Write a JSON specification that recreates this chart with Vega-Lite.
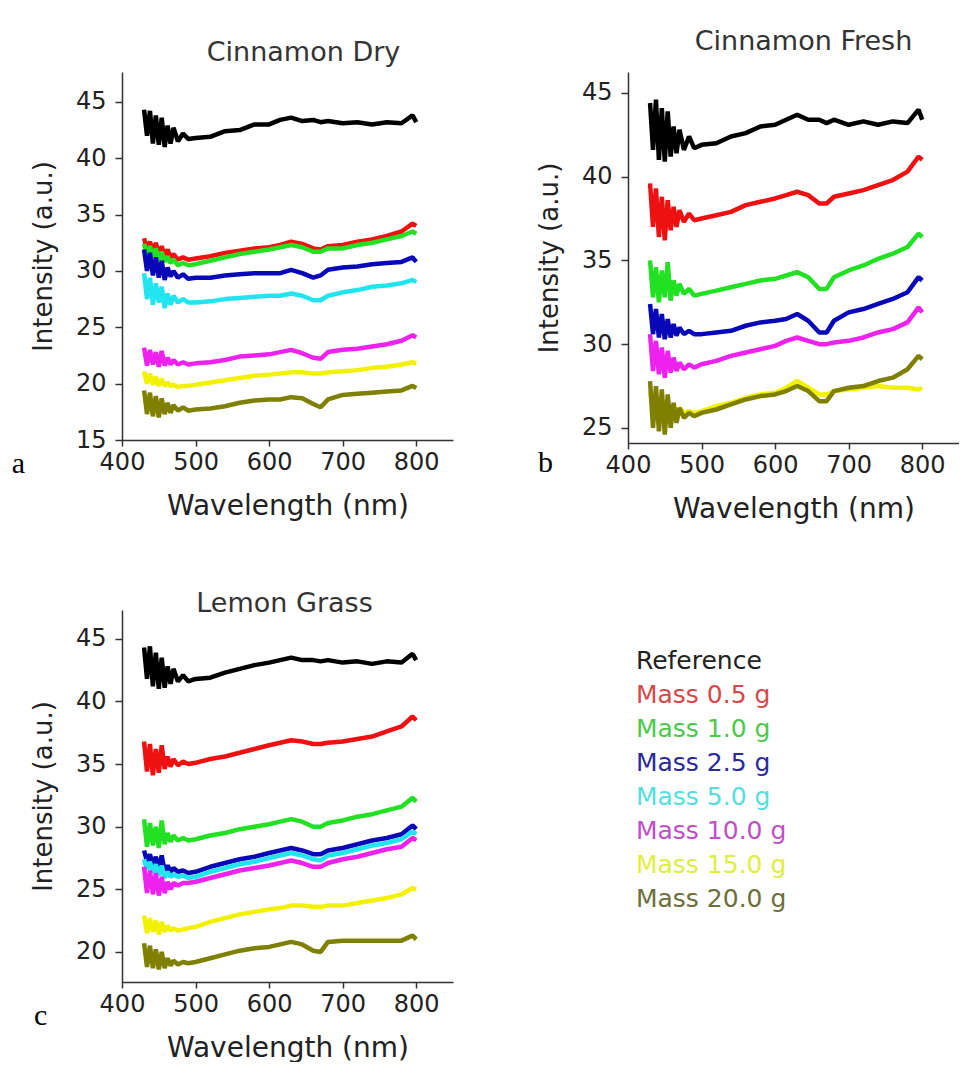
{
"$schema":"https://vega.github.io/schema/vega-lite/v6.json",
"autosize":{"type":"pad"},
"padding":{"left":11,"top":28,"right":0,"bottom":0},
"background":"white",
"config":{
 "view":{"stroke":null},
 "axis":{"grid":false,"domainColor":"#333","domainWidth":1.5,"tickColor":"#333","tickWidth":1.5,"labelFont":"DejaVu Sans","labelFontSize":24,"labelColor":"#222","titleFont":"DejaVu Sans","titleFontSize":26,"titleColor":"#222","titleFontWeight":"normal"},
 "axisX":{"tickSize":6,"labelPadding":4,"titlePadding":18,"labelFlush":false,"titleFontSize":28},
 "axisY":{"tickSize":7,"labelPadding":9,"titlePadding":19},
 "title":{"font":"DejaVu Sans","fontSize":27,"color":"#333","fontWeight":"normal","anchor":"middle","baseline":"alphabetic"},
 "line":{"strokeWidth":4.5,"strokeJoin":"bevel"}
},
"datasets":{
"dry":[
{"m":"ref","x":430,"y":44.3},{"m":"ref","x":434,"y":42.0},{"m":"ref","x":438,"y":44.2},{"m":"ref","x":442,"y":41.3},{"m":"ref","x":446,"y":43.8},{"m":"ref","x":450,"y":41.2},{"m":"ref","x":454,"y":43.6},{"m":"ref","x":458,"y":41.0},{"m":"ref","x":462,"y":42.9},{"m":"ref","x":466,"y":41.3},{"m":"ref","x":470,"y":42.7},{"m":"ref","x":476,"y":41.5},{"m":"ref","x":483,"y":42.2},{"m":"ref","x":490,"y":41.7},{"m":"ref","x":500,"y":41.8},{"m":"ref","x":520,"y":41.9},{"m":"ref","x":540,"y":42.4},{"m":"ref","x":560,"y":42.5},{"m":"ref","x":580,"y":43.0},{"m":"ref","x":600,"y":43.0},{"m":"ref","x":615,"y":43.4},{"m":"ref","x":630,"y":43.6},{"m":"ref","x":645,"y":43.3},{"m":"ref","x":660,"y":43.4},{"m":"ref","x":670,"y":43.2},{"m":"ref","x":680,"y":43.3},{"m":"ref","x":700,"y":43.1},{"m":"ref","x":720,"y":43.2},{"m":"ref","x":740,"y":43.0},{"m":"ref","x":760,"y":43.2},{"m":"ref","x":780,"y":43.1},{"m":"ref","x":795,"y":43.8},{"m":"ref","x":800,"y":43.2},
{"m":"0.5","x":430,"y":32.9},{"m":"0.5","x":434,"y":31.9},{"m":"0.5","x":438,"y":32.6},{"m":"0.5","x":442,"y":31.6},{"m":"0.5","x":446,"y":32.5},{"m":"0.5","x":450,"y":31.4},{"m":"0.5","x":454,"y":32.2},{"m":"0.5","x":458,"y":31.3},{"m":"0.5","x":462,"y":31.9},{"m":"0.5","x":466,"y":31.2},{"m":"0.5","x":470,"y":31.5},{"m":"0.5","x":476,"y":31.0},{"m":"0.5","x":483,"y":31.2},{"m":"0.5","x":490,"y":31.0},{"m":"0.5","x":500,"y":31.1},{"m":"0.5","x":520,"y":31.3},{"m":"0.5","x":540,"y":31.6},{"m":"0.5","x":560,"y":31.8},{"m":"0.5","x":580,"y":32.0},{"m":"0.5","x":600,"y":32.1},{"m":"0.5","x":615,"y":32.3},{"m":"0.5","x":630,"y":32.6},{"m":"0.5","x":645,"y":32.4},{"m":"0.5","x":660,"y":32.0},{"m":"0.5","x":670,"y":31.9},{"m":"0.5","x":680,"y":32.2},{"m":"0.5","x":700,"y":32.3},{"m":"0.5","x":720,"y":32.6},{"m":"0.5","x":740,"y":32.8},{"m":"0.5","x":760,"y":33.1},{"m":"0.5","x":780,"y":33.5},{"m":"0.5","x":795,"y":34.2},{"m":"0.5","x":800,"y":34.0},
{"m":"1.0","x":430,"y":32.4},{"m":"1.0","x":434,"y":31.4},{"m":"1.0","x":438,"y":32.2},{"m":"1.0","x":442,"y":31.2},{"m":"1.0","x":446,"y":32.0},{"m":"1.0","x":450,"y":30.9},{"m":"1.0","x":454,"y":31.7},{"m":"1.0","x":458,"y":30.8},{"m":"1.0","x":462,"y":31.3},{"m":"1.0","x":466,"y":30.7},{"m":"1.0","x":470,"y":31.0},{"m":"1.0","x":476,"y":30.5},{"m":"1.0","x":483,"y":30.7},{"m":"1.0","x":490,"y":30.5},{"m":"1.0","x":500,"y":30.6},{"m":"1.0","x":520,"y":30.9},{"m":"1.0","x":540,"y":31.2},{"m":"1.0","x":560,"y":31.5},{"m":"1.0","x":580,"y":31.7},{"m":"1.0","x":600,"y":31.9},{"m":"1.0","x":615,"y":32.1},{"m":"1.0","x":630,"y":32.3},{"m":"1.0","x":645,"y":32.1},{"m":"1.0","x":660,"y":31.7},{"m":"1.0","x":670,"y":31.7},{"m":"1.0","x":680,"y":32.0},{"m":"1.0","x":700,"y":32.0},{"m":"1.0","x":720,"y":32.3},{"m":"1.0","x":740,"y":32.5},{"m":"1.0","x":760,"y":32.8},{"m":"1.0","x":780,"y":33.1},{"m":"1.0","x":795,"y":33.5},{"m":"1.0","x":800,"y":33.3},
{"m":"2.5","x":430,"y":31.9},{"m":"2.5","x":434,"y":30.0},{"m":"2.5","x":438,"y":31.6},{"m":"2.5","x":442,"y":29.6},{"m":"2.5","x":446,"y":31.2},{"m":"2.5","x":450,"y":29.4},{"m":"2.5","x":454,"y":30.9},{"m":"2.5","x":458,"y":29.2},{"m":"2.5","x":462,"y":30.3},{"m":"2.5","x":466,"y":29.5},{"m":"2.5","x":470,"y":30.0},{"m":"2.5","x":476,"y":29.4},{"m":"2.5","x":483,"y":29.7},{"m":"2.5","x":490,"y":29.3},{"m":"2.5","x":500,"y":29.4},{"m":"2.5","x":520,"y":29.4},{"m":"2.5","x":540,"y":29.6},{"m":"2.5","x":560,"y":29.7},{"m":"2.5","x":580,"y":29.8},{"m":"2.5","x":600,"y":29.8},{"m":"2.5","x":615,"y":29.8},{"m":"2.5","x":630,"y":30.1},{"m":"2.5","x":645,"y":29.8},{"m":"2.5","x":660,"y":29.4},{"m":"2.5","x":670,"y":29.6},{"m":"2.5","x":680,"y":30.1},{"m":"2.5","x":700,"y":30.3},{"m":"2.5","x":720,"y":30.4},{"m":"2.5","x":740,"y":30.6},{"m":"2.5","x":760,"y":30.7},{"m":"2.5","x":780,"y":30.8},{"m":"2.5","x":795,"y":31.2},{"m":"2.5","x":800,"y":30.8},
{"m":"5.0","x":430,"y":29.8},{"m":"5.0","x":434,"y":27.5},{"m":"5.0","x":438,"y":29.4},{"m":"5.0","x":442,"y":27.0},{"m":"5.0","x":446,"y":28.9},{"m":"5.0","x":450,"y":27.2},{"m":"5.0","x":454,"y":28.6},{"m":"5.0","x":458,"y":26.7},{"m":"5.0","x":462,"y":28.0},{"m":"5.0","x":466,"y":27.0},{"m":"5.0","x":470,"y":27.8},{"m":"5.0","x":476,"y":27.2},{"m":"5.0","x":483,"y":27.5},{"m":"5.0","x":490,"y":27.2},{"m":"5.0","x":500,"y":27.2},{"m":"5.0","x":520,"y":27.3},{"m":"5.0","x":540,"y":27.5},{"m":"5.0","x":560,"y":27.6},{"m":"5.0","x":580,"y":27.7},{"m":"5.0","x":600,"y":27.8},{"m":"5.0","x":615,"y":27.8},{"m":"5.0","x":630,"y":28.0},{"m":"5.0","x":645,"y":27.8},{"m":"5.0","x":660,"y":27.4},{"m":"5.0","x":670,"y":27.4},{"m":"5.0","x":680,"y":27.8},{"m":"5.0","x":700,"y":28.1},{"m":"5.0","x":720,"y":28.3},{"m":"5.0","x":740,"y":28.6},{"m":"5.0","x":760,"y":28.7},{"m":"5.0","x":780,"y":28.9},{"m":"5.0","x":795,"y":29.2},{"m":"5.0","x":800,"y":29.0},
{"m":"10.0","x":430,"y":23.2},{"m":"10.0","x":434,"y":21.6},{"m":"10.0","x":438,"y":23.0},{"m":"10.0","x":442,"y":21.7},{"m":"10.0","x":446,"y":22.8},{"m":"10.0","x":450,"y":21.5},{"m":"10.0","x":454,"y":22.9},{"m":"10.0","x":458,"y":21.6},{"m":"10.0","x":462,"y":22.3},{"m":"10.0","x":466,"y":21.7},{"m":"10.0","x":470,"y":22.1},{"m":"10.0","x":476,"y":21.7},{"m":"10.0","x":483,"y":21.9},{"m":"10.0","x":490,"y":21.7},{"m":"10.0","x":500,"y":21.8},{"m":"10.0","x":520,"y":21.9},{"m":"10.0","x":540,"y":22.1},{"m":"10.0","x":560,"y":22.4},{"m":"10.0","x":580,"y":22.5},{"m":"10.0","x":600,"y":22.6},{"m":"10.0","x":615,"y":22.8},{"m":"10.0","x":630,"y":23.0},{"m":"10.0","x":645,"y":22.7},{"m":"10.0","x":660,"y":22.3},{"m":"10.0","x":670,"y":22.2},{"m":"10.0","x":680,"y":22.8},{"m":"10.0","x":700,"y":23.0},{"m":"10.0","x":720,"y":23.1},{"m":"10.0","x":740,"y":23.3},{"m":"10.0","x":760,"y":23.5},{"m":"10.0","x":780,"y":23.8},{"m":"10.0","x":795,"y":24.3},{"m":"10.0","x":800,"y":24.1},
{"m":"15.0","x":430,"y":21.1},{"m":"15.0","x":434,"y":20.0},{"m":"15.0","x":438,"y":20.9},{"m":"15.0","x":442,"y":19.9},{"m":"15.0","x":446,"y":20.6},{"m":"15.0","x":450,"y":19.8},{"m":"15.0","x":454,"y":20.4},{"m":"15.0","x":458,"y":19.8},{"m":"15.0","x":462,"y":20.1},{"m":"15.0","x":466,"y":19.8},{"m":"15.0","x":470,"y":19.9},{"m":"15.0","x":476,"y":19.7},{"m":"15.0","x":483,"y":19.8},{"m":"15.0","x":490,"y":19.8},{"m":"15.0","x":500,"y":19.9},{"m":"15.0","x":520,"y":20.1},{"m":"15.0","x":540,"y":20.3},{"m":"15.0","x":560,"y":20.5},{"m":"15.0","x":580,"y":20.7},{"m":"15.0","x":600,"y":20.8},{"m":"15.0","x":615,"y":20.9},{"m":"15.0","x":630,"y":21.0},{"m":"15.0","x":645,"y":21.0},{"m":"15.0","x":660,"y":20.9},{"m":"15.0","x":670,"y":20.9},{"m":"15.0","x":680,"y":21.0},{"m":"15.0","x":700,"y":21.1},{"m":"15.0","x":720,"y":21.2},{"m":"15.0","x":740,"y":21.4},{"m":"15.0","x":760,"y":21.5},{"m":"15.0","x":780,"y":21.7},{"m":"15.0","x":795,"y":21.9},{"m":"15.0","x":800,"y":21.8},
{"m":"20.0","x":430,"y":19.4},{"m":"20.0","x":434,"y":17.3},{"m":"20.0","x":438,"y":19.2},{"m":"20.0","x":442,"y":17.1},{"m":"20.0","x":446,"y":18.9},{"m":"20.0","x":450,"y":17.0},{"m":"20.0","x":454,"y":18.7},{"m":"20.0","x":458,"y":17.3},{"m":"20.0","x":462,"y":18.3},{"m":"20.0","x":466,"y":17.4},{"m":"20.0","x":470,"y":18.1},{"m":"20.0","x":476,"y":17.6},{"m":"20.0","x":483,"y":17.9},{"m":"20.0","x":490,"y":17.6},{"m":"20.0","x":500,"y":17.7},{"m":"20.0","x":520,"y":17.8},{"m":"20.0","x":540,"y":18.0},{"m":"20.0","x":560,"y":18.3},{"m":"20.0","x":580,"y":18.5},{"m":"20.0","x":600,"y":18.6},{"m":"20.0","x":615,"y":18.6},{"m":"20.0","x":630,"y":18.8},{"m":"20.0","x":645,"y":18.7},{"m":"20.0","x":660,"y":18.2},{"m":"20.0","x":670,"y":17.9},{"m":"20.0","x":680,"y":18.6},{"m":"20.0","x":700,"y":19.0},{"m":"20.0","x":720,"y":19.1},{"m":"20.0","x":740,"y":19.2},{"m":"20.0","x":760,"y":19.3},{"m":"20.0","x":780,"y":19.4},{"m":"20.0","x":795,"y":19.8},{"m":"20.0","x":800,"y":19.6}
],
"fresh":[
{"m":"ref","x":430,"y":44.4},{"m":"ref","x":434,"y":41.6},{"m":"ref","x":438,"y":44.6},{"m":"ref","x":442,"y":41.0},{"m":"ref","x":446,"y":44.1},{"m":"ref","x":450,"y":40.9},{"m":"ref","x":454,"y":43.9},{"m":"ref","x":458,"y":41.2},{"m":"ref","x":462,"y":43.0},{"m":"ref","x":466,"y":41.4},{"m":"ref","x":470,"y":42.8},{"m":"ref","x":476,"y":41.6},{"m":"ref","x":483,"y":42.4},{"m":"ref","x":490,"y":41.7},{"m":"ref","x":500,"y":41.9},{"m":"ref","x":520,"y":42.0},{"m":"ref","x":540,"y":42.4},{"m":"ref","x":560,"y":42.6},{"m":"ref","x":580,"y":43.0},{"m":"ref","x":600,"y":43.1},{"m":"ref","x":615,"y":43.4},{"m":"ref","x":630,"y":43.7},{"m":"ref","x":645,"y":43.4},{"m":"ref","x":660,"y":43.4},{"m":"ref","x":670,"y":43.2},{"m":"ref","x":680,"y":43.4},{"m":"ref","x":700,"y":43.1},{"m":"ref","x":720,"y":43.3},{"m":"ref","x":740,"y":43.1},{"m":"ref","x":760,"y":43.3},{"m":"ref","x":780,"y":43.2},{"m":"ref","x":795,"y":44.0},{"m":"ref","x":800,"y":43.4},
{"m":"0.5","x":430,"y":39.6},{"m":"0.5","x":434,"y":37.0},{"m":"0.5","x":438,"y":39.3},{"m":"0.5","x":442,"y":36.4},{"m":"0.5","x":446,"y":38.8},{"m":"0.5","x":450,"y":36.2},{"m":"0.5","x":454,"y":38.6},{"m":"0.5","x":458,"y":36.8},{"m":"0.5","x":462,"y":38.2},{"m":"0.5","x":466,"y":37.0},{"m":"0.5","x":470,"y":38.0},{"m":"0.5","x":476,"y":37.3},{"m":"0.5","x":483,"y":37.8},{"m":"0.5","x":490,"y":37.4},{"m":"0.5","x":500,"y":37.5},{"m":"0.5","x":520,"y":37.7},{"m":"0.5","x":540,"y":37.9},{"m":"0.5","x":560,"y":38.3},{"m":"0.5","x":580,"y":38.5},{"m":"0.5","x":600,"y":38.7},{"m":"0.5","x":615,"y":38.9},{"m":"0.5","x":630,"y":39.1},{"m":"0.5","x":645,"y":38.9},{"m":"0.5","x":660,"y":38.4},{"m":"0.5","x":670,"y":38.4},{"m":"0.5","x":680,"y":38.8},{"m":"0.5","x":700,"y":39.0},{"m":"0.5","x":720,"y":39.2},{"m":"0.5","x":740,"y":39.5},{"m":"0.5","x":760,"y":39.8},{"m":"0.5","x":780,"y":40.3},{"m":"0.5","x":795,"y":41.2},{"m":"0.5","x":800,"y":41.0},
{"m":"1.0","x":430,"y":35.0},{"m":"1.0","x":434,"y":32.8},{"m":"1.0","x":438,"y":34.6},{"m":"1.0","x":442,"y":32.5},{"m":"1.0","x":446,"y":34.4},{"m":"1.0","x":450,"y":32.8},{"m":"1.0","x":454,"y":34.9},{"m":"1.0","x":458,"y":32.6},{"m":"1.0","x":462,"y":33.8},{"m":"1.0","x":466,"y":32.9},{"m":"1.0","x":470,"y":33.6},{"m":"1.0","x":476,"y":33.0},{"m":"1.0","x":483,"y":33.3},{"m":"1.0","x":490,"y":32.9},{"m":"1.0","x":500,"y":33.0},{"m":"1.0","x":520,"y":33.2},{"m":"1.0","x":540,"y":33.4},{"m":"1.0","x":560,"y":33.6},{"m":"1.0","x":580,"y":33.8},{"m":"1.0","x":600,"y":33.9},{"m":"1.0","x":615,"y":34.1},{"m":"1.0","x":630,"y":34.3},{"m":"1.0","x":645,"y":34.0},{"m":"1.0","x":660,"y":33.3},{"m":"1.0","x":670,"y":33.3},{"m":"1.0","x":680,"y":34.0},{"m":"1.0","x":700,"y":34.4},{"m":"1.0","x":720,"y":34.7},{"m":"1.0","x":740,"y":35.1},{"m":"1.0","x":760,"y":35.4},{"m":"1.0","x":780,"y":35.8},{"m":"1.0","x":795,"y":36.6},{"m":"1.0","x":800,"y":36.4},
{"m":"2.5","x":430,"y":32.4},{"m":"2.5","x":434,"y":30.6},{"m":"2.5","x":438,"y":32.1},{"m":"2.5","x":442,"y":30.4},{"m":"2.5","x":446,"y":31.8},{"m":"2.5","x":450,"y":30.3},{"m":"2.5","x":454,"y":31.5},{"m":"2.5","x":458,"y":30.4},{"m":"2.5","x":462,"y":31.2},{"m":"2.5","x":466,"y":30.5},{"m":"2.5","x":470,"y":31.0},{"m":"2.5","x":476,"y":30.6},{"m":"2.5","x":483,"y":30.8},{"m":"2.5","x":490,"y":30.6},{"m":"2.5","x":500,"y":30.6},{"m":"2.5","x":520,"y":30.7},{"m":"2.5","x":540,"y":30.8},{"m":"2.5","x":560,"y":31.1},{"m":"2.5","x":580,"y":31.3},{"m":"2.5","x":600,"y":31.4},{"m":"2.5","x":615,"y":31.5},{"m":"2.5","x":630,"y":31.8},{"m":"2.5","x":645,"y":31.4},{"m":"2.5","x":660,"y":30.7},{"m":"2.5","x":670,"y":30.7},{"m":"2.5","x":680,"y":31.4},{"m":"2.5","x":700,"y":31.9},{"m":"2.5","x":720,"y":32.1},{"m":"2.5","x":740,"y":32.4},{"m":"2.5","x":760,"y":32.7},{"m":"2.5","x":780,"y":33.1},{"m":"2.5","x":795,"y":34.0},{"m":"2.5","x":800,"y":33.8},
{"m":"10.0","x":430,"y":30.6},{"m":"10.0","x":434,"y":28.4},{"m":"10.0","x":438,"y":30.2},{"m":"10.0","x":442,"y":28.2},{"m":"10.0","x":446,"y":29.8},{"m":"10.0","x":450,"y":28.0},{"m":"10.0","x":454,"y":29.6},{"m":"10.0","x":458,"y":28.3},{"m":"10.0","x":462,"y":29.2},{"m":"10.0","x":466,"y":28.4},{"m":"10.0","x":470,"y":28.9},{"m":"10.0","x":476,"y":28.5},{"m":"10.0","x":483,"y":28.8},{"m":"10.0","x":490,"y":28.6},{"m":"10.0","x":500,"y":28.8},{"m":"10.0","x":520,"y":29.0},{"m":"10.0","x":540,"y":29.3},{"m":"10.0","x":560,"y":29.5},{"m":"10.0","x":580,"y":29.7},{"m":"10.0","x":600,"y":29.9},{"m":"10.0","x":615,"y":30.2},{"m":"10.0","x":630,"y":30.4},{"m":"10.0","x":645,"y":30.2},{"m":"10.0","x":660,"y":30.0},{"m":"10.0","x":670,"y":30.0},{"m":"10.0","x":680,"y":30.1},{"m":"10.0","x":700,"y":30.2},{"m":"10.0","x":720,"y":30.4},{"m":"10.0","x":740,"y":30.7},{"m":"10.0","x":760,"y":30.9},{"m":"10.0","x":780,"y":31.3},{"m":"10.0","x":795,"y":32.2},{"m":"10.0","x":800,"y":31.9},
{"m":"15.0","x":430,"y":27.2},{"m":"15.0","x":434,"y":26.0},{"m":"15.0","x":438,"y":27.0},{"m":"15.0","x":442,"y":25.8},{"m":"15.0","x":446,"y":26.8},{"m":"15.0","x":450,"y":25.7},{"m":"15.0","x":454,"y":26.6},{"m":"15.0","x":458,"y":25.8},{"m":"15.0","x":462,"y":26.3},{"m":"15.0","x":466,"y":25.9},{"m":"15.0","x":470,"y":26.2},{"m":"15.0","x":476,"y":25.9},{"m":"15.0","x":483,"y":26.0},{"m":"15.0","x":490,"y":25.9},{"m":"15.0","x":500,"y":26.0},{"m":"15.0","x":520,"y":26.3},{"m":"15.0","x":540,"y":26.5},{"m":"15.0","x":560,"y":26.8},{"m":"15.0","x":580,"y":27.0},{"m":"15.0","x":600,"y":27.1},{"m":"15.0","x":615,"y":27.4},{"m":"15.0","x":630,"y":27.8},{"m":"15.0","x":645,"y":27.4},{"m":"15.0","x":660,"y":27.0},{"m":"15.0","x":670,"y":27.0},{"m":"15.0","x":680,"y":27.2},{"m":"15.0","x":700,"y":27.3},{"m":"15.0","x":720,"y":27.4},{"m":"15.0","x":740,"y":27.5},{"m":"15.0","x":760,"y":27.4},{"m":"15.0","x":780,"y":27.4},{"m":"15.0","x":795,"y":27.3},{"m":"15.0","x":800,"y":27.4},
{"m":"20.0","x":430,"y":27.8},{"m":"20.0","x":434,"y":25.0},{"m":"20.0","x":438,"y":27.5},{"m":"20.0","x":442,"y":24.8},{"m":"20.0","x":446,"y":27.3},{"m":"20.0","x":450,"y":24.6},{"m":"20.0","x":454,"y":27.0},{"m":"20.0","x":458,"y":25.0},{"m":"20.0","x":462,"y":26.5},{"m":"20.0","x":466,"y":25.3},{"m":"20.0","x":470,"y":26.2},{"m":"20.0","x":476,"y":25.6},{"m":"20.0","x":483,"y":25.9},{"m":"20.0","x":490,"y":25.7},{"m":"20.0","x":500,"y":25.9},{"m":"20.0","x":520,"y":26.1},{"m":"20.0","x":540,"y":26.4},{"m":"20.0","x":560,"y":26.7},{"m":"20.0","x":580,"y":26.9},{"m":"20.0","x":600,"y":27.0},{"m":"20.0","x":615,"y":27.2},{"m":"20.0","x":630,"y":27.5},{"m":"20.0","x":645,"y":27.2},{"m":"20.0","x":660,"y":26.6},{"m":"20.0","x":670,"y":26.6},{"m":"20.0","x":680,"y":27.2},{"m":"20.0","x":700,"y":27.4},{"m":"20.0","x":720,"y":27.5},{"m":"20.0","x":740,"y":27.8},{"m":"20.0","x":760,"y":28.0},{"m":"20.0","x":780,"y":28.5},{"m":"20.0","x":795,"y":29.3},{"m":"20.0","x":800,"y":29.1}
],
"lemon":[
{"m":"ref","x":430,"y":44.3},{"m":"ref","x":434,"y":41.8},{"m":"ref","x":438,"y":44.4},{"m":"ref","x":442,"y":41.2},{"m":"ref","x":446,"y":43.9},{"m":"ref","x":450,"y":41.0},{"m":"ref","x":454,"y":43.5},{"m":"ref","x":458,"y":41.1},{"m":"ref","x":462,"y":42.8},{"m":"ref","x":466,"y":41.4},{"m":"ref","x":470,"y":42.6},{"m":"ref","x":476,"y":41.6},{"m":"ref","x":483,"y":42.1},{"m":"ref","x":490,"y":41.6},{"m":"ref","x":500,"y":41.8},{"m":"ref","x":520,"y":41.9},{"m":"ref","x":540,"y":42.3},{"m":"ref","x":560,"y":42.6},{"m":"ref","x":580,"y":42.9},{"m":"ref","x":600,"y":43.1},{"m":"ref","x":615,"y":43.3},{"m":"ref","x":630,"y":43.5},{"m":"ref","x":645,"y":43.3},{"m":"ref","x":660,"y":43.3},{"m":"ref","x":670,"y":43.2},{"m":"ref","x":680,"y":43.3},{"m":"ref","x":700,"y":43.1},{"m":"ref","x":720,"y":43.2},{"m":"ref","x":740,"y":43.0},{"m":"ref","x":760,"y":43.2},{"m":"ref","x":780,"y":43.1},{"m":"ref","x":795,"y":43.8},{"m":"ref","x":800,"y":43.3},
{"m":"0.5","x":430,"y":36.8},{"m":"0.5","x":434,"y":34.4},{"m":"0.5","x":438,"y":36.6},{"m":"0.5","x":442,"y":34.1},{"m":"0.5","x":446,"y":36.2},{"m":"0.5","x":450,"y":34.3},{"m":"0.5","x":454,"y":36.5},{"m":"0.5","x":458,"y":34.6},{"m":"0.5","x":462,"y":35.6},{"m":"0.5","x":466,"y":34.8},{"m":"0.5","x":470,"y":35.4},{"m":"0.5","x":476,"y":34.9},{"m":"0.5","x":483,"y":35.2},{"m":"0.5","x":490,"y":35.0},{"m":"0.5","x":500,"y":35.1},{"m":"0.5","x":520,"y":35.4},{"m":"0.5","x":540,"y":35.6},{"m":"0.5","x":560,"y":35.9},{"m":"0.5","x":580,"y":36.2},{"m":"0.5","x":600,"y":36.5},{"m":"0.5","x":615,"y":36.7},{"m":"0.5","x":630,"y":36.9},{"m":"0.5","x":645,"y":36.8},{"m":"0.5","x":660,"y":36.6},{"m":"0.5","x":670,"y":36.6},{"m":"0.5","x":680,"y":36.7},{"m":"0.5","x":700,"y":36.8},{"m":"0.5","x":720,"y":37.0},{"m":"0.5","x":740,"y":37.2},{"m":"0.5","x":760,"y":37.6},{"m":"0.5","x":780,"y":38.0},{"m":"0.5","x":795,"y":38.8},{"m":"0.5","x":800,"y":38.5},
{"m":"1.0","x":430,"y":30.6},{"m":"1.0","x":434,"y":28.4},{"m":"1.0","x":438,"y":30.3},{"m":"1.0","x":442,"y":28.5},{"m":"1.0","x":446,"y":30.0},{"m":"1.0","x":450,"y":28.3},{"m":"1.0","x":454,"y":30.5},{"m":"1.0","x":458,"y":28.6},{"m":"1.0","x":462,"y":29.5},{"m":"1.0","x":466,"y":28.8},{"m":"1.0","x":470,"y":29.3},{"m":"1.0","x":476,"y":28.9},{"m":"1.0","x":483,"y":29.1},{"m":"1.0","x":490,"y":28.9},{"m":"1.0","x":500,"y":29.0},{"m":"1.0","x":520,"y":29.3},{"m":"1.0","x":540,"y":29.5},{"m":"1.0","x":560,"y":29.8},{"m":"1.0","x":580,"y":30.0},{"m":"1.0","x":600,"y":30.2},{"m":"1.0","x":615,"y":30.4},{"m":"1.0","x":630,"y":30.6},{"m":"1.0","x":645,"y":30.4},{"m":"1.0","x":660,"y":30.0},{"m":"1.0","x":670,"y":30.0},{"m":"1.0","x":680,"y":30.3},{"m":"1.0","x":700,"y":30.5},{"m":"1.0","x":720,"y":30.8},{"m":"1.0","x":740,"y":31.0},{"m":"1.0","x":760,"y":31.3},{"m":"1.0","x":780,"y":31.6},{"m":"1.0","x":795,"y":32.3},{"m":"1.0","x":800,"y":32.0},
{"m":"2.5","x":430,"y":28.1},{"m":"2.5","x":434,"y":27.2},{"m":"2.5","x":438,"y":27.8},{"m":"2.5","x":442,"y":26.9},{"m":"2.5","x":446,"y":27.6},{"m":"2.5","x":450,"y":26.6},{"m":"2.5","x":454,"y":27.7},{"m":"2.5","x":458,"y":26.4},{"m":"2.5","x":462,"y":26.9},{"m":"2.5","x":466,"y":26.4},{"m":"2.5","x":470,"y":26.7},{"m":"2.5","x":476,"y":26.4},{"m":"2.5","x":483,"y":26.5},{"m":"2.5","x":490,"y":26.3},{"m":"2.5","x":500,"y":26.4},{"m":"2.5","x":520,"y":26.8},{"m":"2.5","x":540,"y":27.1},{"m":"2.5","x":560,"y":27.4},{"m":"2.5","x":580,"y":27.6},{"m":"2.5","x":600,"y":27.9},{"m":"2.5","x":615,"y":28.1},{"m":"2.5","x":630,"y":28.3},{"m":"2.5","x":645,"y":28.1},{"m":"2.5","x":660,"y":27.8},{"m":"2.5","x":670,"y":27.8},{"m":"2.5","x":680,"y":28.1},{"m":"2.5","x":700,"y":28.3},{"m":"2.5","x":720,"y":28.6},{"m":"2.5","x":740,"y":28.9},{"m":"2.5","x":760,"y":29.1},{"m":"2.5","x":780,"y":29.4},{"m":"2.5","x":795,"y":30.1},{"m":"2.5","x":800,"y":29.8},
{"m":"5.0","x":430,"y":27.4},{"m":"5.0","x":434,"y":26.6},{"m":"5.0","x":438,"y":27.2},{"m":"5.0","x":442,"y":26.3},{"m":"5.0","x":446,"y":27.0},{"m":"5.0","x":450,"y":26.1},{"m":"5.0","x":454,"y":26.9},{"m":"5.0","x":458,"y":25.9},{"m":"5.0","x":462,"y":26.4},{"m":"5.0","x":466,"y":26.0},{"m":"5.0","x":470,"y":26.2},{"m":"5.0","x":476,"y":26.0},{"m":"5.0","x":483,"y":26.1},{"m":"5.0","x":490,"y":25.9},{"m":"5.0","x":500,"y":26.0},{"m":"5.0","x":520,"y":26.4},{"m":"5.0","x":540,"y":26.7},{"m":"5.0","x":560,"y":27.0},{"m":"5.0","x":580,"y":27.2},{"m":"5.0","x":600,"y":27.5},{"m":"5.0","x":615,"y":27.7},{"m":"5.0","x":630,"y":27.9},{"m":"5.0","x":645,"y":27.7},{"m":"5.0","x":660,"y":27.4},{"m":"5.0","x":670,"y":27.3},{"m":"5.0","x":680,"y":27.7},{"m":"5.0","x":700,"y":27.9},{"m":"5.0","x":720,"y":28.2},{"m":"5.0","x":740,"y":28.5},{"m":"5.0","x":760,"y":28.7},{"m":"5.0","x":780,"y":29.0},{"m":"5.0","x":795,"y":29.6},{"m":"5.0","x":800,"y":29.4},
{"m":"10.0","x":430,"y":26.8},{"m":"10.0","x":434,"y":24.7},{"m":"10.0","x":438,"y":26.5},{"m":"10.0","x":442,"y":24.6},{"m":"10.0","x":446,"y":26.3},{"m":"10.0","x":450,"y":24.5},{"m":"10.0","x":454,"y":26.0},{"m":"10.0","x":458,"y":24.7},{"m":"10.0","x":462,"y":25.6},{"m":"10.0","x":466,"y":25.0},{"m":"10.0","x":470,"y":25.5},{"m":"10.0","x":476,"y":25.3},{"m":"10.0","x":483,"y":25.5},{"m":"10.0","x":490,"y":25.5},{"m":"10.0","x":500,"y":25.6},{"m":"10.0","x":520,"y":25.9},{"m":"10.0","x":540,"y":26.2},{"m":"10.0","x":560,"y":26.5},{"m":"10.0","x":580,"y":26.7},{"m":"10.0","x":600,"y":26.9},{"m":"10.0","x":615,"y":27.1},{"m":"10.0","x":630,"y":27.3},{"m":"10.0","x":645,"y":27.1},{"m":"10.0","x":660,"y":26.8},{"m":"10.0","x":670,"y":26.8},{"m":"10.0","x":680,"y":27.1},{"m":"10.0","x":700,"y":27.4},{"m":"10.0","x":720,"y":27.6},{"m":"10.0","x":740,"y":27.9},{"m":"10.0","x":760,"y":28.2},{"m":"10.0","x":780,"y":28.4},{"m":"10.0","x":795,"y":29.1},{"m":"10.0","x":800,"y":28.9},
{"m":"15.0","x":430,"y":22.9},{"m":"15.0","x":434,"y":21.5},{"m":"15.0","x":438,"y":22.7},{"m":"15.0","x":442,"y":21.6},{"m":"15.0","x":446,"y":22.5},{"m":"15.0","x":450,"y":21.4},{"m":"15.0","x":454,"y":22.4},{"m":"15.0","x":458,"y":21.6},{"m":"15.0","x":462,"y":22.1},{"m":"15.0","x":466,"y":21.7},{"m":"15.0","x":470,"y":21.9},{"m":"15.0","x":476,"y":21.7},{"m":"15.0","x":483,"y":21.8},{"m":"15.0","x":490,"y":21.9},{"m":"15.0","x":500,"y":22.0},{"m":"15.0","x":520,"y":22.4},{"m":"15.0","x":540,"y":22.7},{"m":"15.0","x":560,"y":23.0},{"m":"15.0","x":580,"y":23.2},{"m":"15.0","x":600,"y":23.4},{"m":"15.0","x":615,"y":23.5},{"m":"15.0","x":630,"y":23.7},{"m":"15.0","x":645,"y":23.7},{"m":"15.0","x":660,"y":23.6},{"m":"15.0","x":670,"y":23.6},{"m":"15.0","x":680,"y":23.7},{"m":"15.0","x":700,"y":23.7},{"m":"15.0","x":720,"y":23.9},{"m":"15.0","x":740,"y":24.1},{"m":"15.0","x":760,"y":24.3},{"m":"15.0","x":780,"y":24.6},{"m":"15.0","x":795,"y":25.1},{"m":"15.0","x":800,"y":25.0},
{"m":"20.0","x":430,"y":20.7},{"m":"20.0","x":434,"y":18.8},{"m":"20.0","x":438,"y":20.5},{"m":"20.0","x":442,"y":18.7},{"m":"20.0","x":446,"y":20.2},{"m":"20.0","x":450,"y":18.6},{"m":"20.0","x":454,"y":20.0},{"m":"20.0","x":458,"y":18.7},{"m":"20.0","x":462,"y":19.5},{"m":"20.0","x":466,"y":18.9},{"m":"20.0","x":470,"y":19.3},{"m":"20.0","x":476,"y":19.0},{"m":"20.0","x":483,"y":19.2},{"m":"20.0","x":490,"y":19.1},{"m":"20.0","x":500,"y":19.2},{"m":"20.0","x":520,"y":19.5},{"m":"20.0","x":540,"y":19.8},{"m":"20.0","x":560,"y":20.1},{"m":"20.0","x":580,"y":20.3},{"m":"20.0","x":600,"y":20.4},{"m":"20.0","x":615,"y":20.6},{"m":"20.0","x":630,"y":20.8},{"m":"20.0","x":645,"y":20.6},{"m":"20.0","x":660,"y":20.1},{"m":"20.0","x":670,"y":20.0},{"m":"20.0","x":680,"y":20.8},{"m":"20.0","x":700,"y":20.9},{"m":"20.0","x":720,"y":20.9},{"m":"20.0","x":740,"y":20.9},{"m":"20.0","x":760,"y":20.9},{"m":"20.0","x":780,"y":20.9},{"m":"20.0","x":795,"y":21.3},{"m":"20.0","x":800,"y":21.0}
],
"legend":[{"t":"Reference"},{"t":"Mass 0.5 g"},{"t":"Mass 1.0 g"},{"t":"Mass 2.5 g"},{"t":"Mass 5.0 g"},{"t":"Mass 10.0 g"},{"t":"Mass 15.0 g"},{"t":"Mass 20.0 g"}]
},
"bounds":"flush",
"columns":2,
"spacing":{"row":167,"column":175},
"concat":[
 {"width":331,"height":368,
  "title":{"text":"Cinnamon Dry","offset":5,"dx":16},
  "layer":[
   {"data":{"name":"dry"},"mark":{"type":"line"},
    "encoding":{
     "x":{"field":"x","type":"quantitative","scale":{"domain":[400,850],"nice":false},"axis":{"title":"Wavelength (nm)","values":[400,500,600,700,800]}},
     "y":{"field":"y","type":"quantitative","scale":{"domain":[15,47.65],"nice":false,"zero":false},"axis":{"title":"Intensity (a.u.)","values":[15,20,25,30,35,40,45]}},
     "color":{"field":"m","type":"nominal","sort":null,"legend":null,"scale":{"domain":["ref","0.5","1.0","2.5","5.0","10.0","15.0","20.0"],"range":["#000000","#ee1111","#22e022","#0808b8","#22e4ee","#ee22ee","#f2f200","#808000"]}}}},
   {"data":{"values":[{"lab":"a"}]},"mark":{"type":"text","font":"Liberation Serif","fontSize":30,"align":"left","baseline":"alphabetic","color":"#000"},
    "encoding":{"x":{"datum":250,"type":"quantitative"},"y":{"datum":12.07,"type":"quantitative"},"text":{"field":"lab"}}}
  ]},
 {"width":331,"height":371,
  "title":{"text":"Cinnamon Fresh","offset":16,"dx":10},
  "layer":[
   {"data":{"name":"fresh"},"mark":{"type":"line"},
    "encoding":{
     "x":{"field":"x","type":"quantitative","scale":{"domain":[400,850],"nice":false},"axis":{"title":"Wavelength (nm)","values":[400,500,600,700,800]}},
     "y":{"field":"y","type":"quantitative","scale":{"domain":[24.1,46.25],"nice":false,"zero":false},"axis":{"title":"Intensity (a.u.)","values":[25,30,35,40,45]}},
     "color":{"field":"m","type":"nominal","sort":null,"legend":null,"scale":{"domain":["ref","0.5","1.0","2.5","5.0","10.0","15.0","20.0"],"range":["#000000","#ee1111","#22e022","#0808b8","#22e4ee","#ee22ee","#f2f200","#808000"]}}}},
   {"data":{"values":[{"lab":"b"}]},"mark":{"type":"text","font":"Liberation Serif","fontSize":30,"align":"left","baseline":"alphabetic","color":"#000"},
    "encoding":{"x":{"datum":277.6,"type":"quantitative"},"y":{"datum":22.37,"type":"quantitative"},"text":{"field":"lab"}}}
  ]},
 {"width":331,"height":372,
  "title":{"text":"Lemon Grass","offset":-8,"dx":-3},
  "layer":[
   {"data":{"name":"lemon"},"mark":{"type":"line"},
    "encoding":{
     "x":{"field":"x","type":"quantitative","scale":{"domain":[400,850],"nice":false},"axis":{"title":"Wavelength (nm)","values":[400,500,600,700,800]}},
     "y":{"field":"y","type":"quantitative","scale":{"domain":[17.6,47.3],"nice":false,"zero":false},"axis":{"title":"Intensity (a.u.)","values":[20,25,30,35,40,45]}},
     "color":{"field":"m","type":"nominal","sort":null,"legend":null,"scale":{"domain":["ref","0.5","1.0","2.5","5.0","10.0","15.0","20.0"],"range":["#000000","#ee1111","#22e022","#0808b8","#22e4ee","#ee22ee","#f2f200","#808000"]}}}},
   {"data":{"values":[{"lab":"c"}]},"mark":{"type":"text","font":"Liberation Serif","fontSize":30,"align":"left","baseline":"alphabetic","color":"#000"},
    "encoding":{"x":{"datum":280.4,"type":"quantitative"},"y":{"datum":14.18,"type":"quantitative"},"text":{"field":"lab"}}}
  ]},
 {"width":331,"height":306,
  "data":{"name":"legend"},
  "mark":{"type":"text","font":"DejaVu Sans","fontSize":25,"align":"left","baseline":"middle"},
  "encoding":{
   "x":{"datum":0.024,"type":"quantitative","scale":{"domain":[0,1]},"axis":null},
   "y":{"field":"t","type":"nominal","sort":null,"scale":{"type":"point","padding":0.5,"domain":["","Reference","Mass 0.5 g","Mass 1.0 g","Mass 2.5 g","Mass 5.0 g","Mass 10.0 g","Mass 15.0 g","Mass 20.0 g"]},"axis":null},
   "text":{"field":"t"},
   "color":{"field":"t","type":"nominal","legend":null,"scale":{"domain":["Reference","Mass 0.5 g","Mass 1.0 g","Mass 2.5 g","Mass 5.0 g","Mass 10.0 g","Mass 15.0 g","Mass 20.0 g"],"range":["#222222","#d84848","#4cc94c","#2a2a9a","#55dede","#c050c8","#e0ee40","#6e6e3c"]}}}
 }
],
"resolve":{"scale":{"color":"independent"}}
}
